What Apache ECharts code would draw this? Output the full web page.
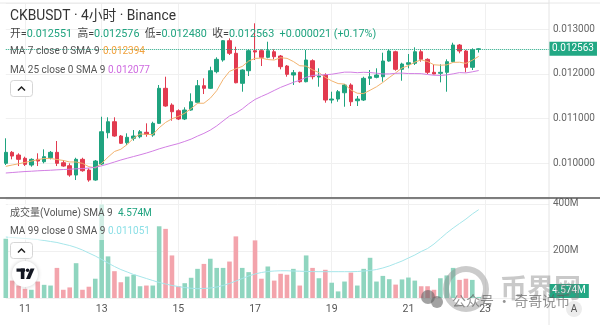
<!DOCTYPE html>
<html><head><meta charset="utf-8">
<script src="https://cdn.jsdelivr.net/npm/echarts/dist/echarts.min.js"></script>
<style>html,body{margin:0;padding:0;background:#fff}#c{width:600px;height:325px}</style>
</head><body><div id="c"></div>
<script>
// ---------- data ----------
const symbolTitle = 'CKBUSDT · 4小时 · Binance';
const startDay = 10, startHour = 12, slotHours = 4, slotCount = 86;
const dayTicks = ['11','13','15','17','19','21','23'];
const priceTicks = [0.010, 0.011, 0.012, 0.013];
const volumeTicks = ['200M','400M'];

const opens = [0.010000,0.010246,0.010186,0.010112,0.009962,0.010089,0.010036,0.010125,0.010246,0.010013,
0.009946,0.009738,0.010089,0.009850,0.009626,0.009984,0.010685,0.010931,0.010611,0.010461,
0.010560,0.010595,0.010694,0.010633,0.010895,0.011679,0.011305,0.011177,0.010992,0.011193,
0.011366,0.011737,0.011679,0.012051,0.012313,0.012745,0.012463,0.011791,0.012073,0.012521,
0.012521,0.012373,0.012498,0.012402,0.012178,0.011977,0.012037,0.011827,0.012297,0.011932,
0.011977,0.011417,0.011439,0.011580,0.011753,0.011401,0.011417,0.011903,0.011925,0.011939,
0.012290,0.012498,0.012104,0.012216,0.012239,0.012498,0.012328,0.012037,0.012015,0.012037,
0.012275,0.012648,0.012514,0.012149,0.012551];
const highs = [0.010560,0.010275,0.010224,0.010148,0.010112,0.010224,0.010313,0.010275,0.010499,0.010074,
0.010000,0.010125,0.010125,0.009888,0.010074,0.011043,0.011030,0.011030,0.010633,0.010671,
0.010745,0.010745,0.010895,0.010931,0.011753,0.011939,0.011343,0.011209,0.011254,0.011567,
0.011865,0.011903,0.012163,0.012373,0.012760,0.012798,0.012610,0.012104,0.012552,0.013134,
0.012552,0.012722,0.012552,0.012425,0.012201,0.012089,0.012051,0.012537,0.012328,0.012127,
0.012015,0.011603,0.011641,0.011775,0.011791,0.011507,0.011939,0.012089,0.012127,0.012476,
0.012552,0.012521,0.012252,0.012447,0.012597,0.012552,0.012351,0.012216,0.012216,0.012328,
0.012700,0.012671,0.012537,0.012575,0.012576];
const lows = [0.009962,0.010089,0.009939,0.009939,0.009924,0.009939,0.010000,0.010089,0.009939,0.009924,
0.009700,0.009626,0.009812,0.009588,0.009610,0.009962,0.010560,0.010595,0.010432,0.010410,
0.010506,0.010560,0.010595,0.010595,0.010880,0.011267,0.010954,0.010969,0.010969,0.011177,
0.011343,0.011551,0.011663,0.012015,0.012275,0.012425,0.011791,0.011603,0.011954,0.012313,
0.012178,0.012351,0.012328,0.012104,0.011939,0.011753,0.011804,0.011813,0.011880,0.011715,
0.011357,0.011343,0.011379,0.011267,0.011283,0.011283,0.011395,0.011753,0.011903,0.011827,
0.012275,0.012073,0.011849,0.012127,0.012201,0.012275,0.011999,0.011992,0.011813,0.011603,
0.012261,0.012463,0.012037,0.012089,0.012480];
const closes = [0.010246,0.010163,0.010089,0.009977,0.010089,0.010051,0.010148,0.010246,0.010000,0.009939,
0.009738,0.010089,0.009834,0.009626,0.010051,0.010707,0.010931,0.010611,0.010448,0.010582,
0.010611,0.010707,0.010649,0.010895,0.011679,0.011283,0.011155,0.010992,0.011193,0.011379,
0.011737,0.011679,0.012073,0.012328,0.012745,0.012463,0.011804,0.012089,0.012521,0.012492,
0.012373,0.012521,0.012387,0.012163,0.011992,0.012028,0.011827,0.012313,0.011939,0.011954,
0.011417,0.011439,0.011603,0.011753,0.011379,0.011439,0.011903,0.011939,0.011977,0.012290,
0.012514,0.012104,0.012223,0.012252,0.012498,0.012328,0.012037,0.011999,0.012037,0.012275,
0.012648,0.012514,0.012149,0.012542,0.012563];
const volumesM = [252,74,53,39,35,70,56,53,128,35,
45,148,35,48,82,398,177,114,67,91,
99,50,53,53,305,294,181,50,63,86,
124,145,167,128,128,155,262,128,110,245,
82,134,74,103,99,124,53,181,128,84,
120,65,28,70,108,53,124,171,70,94,
80,57,79,87,74,50,50,35,84,96,
128,77,82,77,4.574];
const ma7 = [0.009932,0.009962,0.009990,0.010020,0.010050,0.010080,0.010109,0.010109,0.010086,0.010064,
0.010030,0.010030,0.009999,0.009925,0.009897,0.009998,0.010139,0.010264,0.010315,0.010422,
0.010563,0.010657,0.010648,0.010643,0.010796,0.010915,0.010997,0.011051,0.011121,0.011225,
0.011345,0.011345,0.011458,0.011626,0.011876,0.012058,0.012118,0.012169,0.012289,0.012349,
0.012355,0.012323,0.012312,0.012364,0.012350,0.012279,0.012184,0.012176,0.012093,0.012031,
0.011924,0.011845,0.011785,0.011774,0.011641,0.011569,0.011562,0.011636,0.011713,0.011811,
0.011920,0.012024,0.012136,0.012186,0.012265,0.012316,0.012279,0.012206,0.012196,0.012204,
0.012260,0.012263,0.012237,0.012308,0.012394];
const ma25 = [0.009783,0.009794,0.009805,0.009816,0.009823,0.009832,0.009839,0.009845,0.009854,0.009861,
0.009868,0.009877,0.009883,0.009894,0.009912,0.009944,0.009984,0.010029,0.010074,0.010114,
0.010152,0.010190,0.010230,0.010275,0.010324,0.010366,0.010405,0.010442,0.010490,0.010542,
0.010609,0.010670,0.010744,0.010837,0.010949,0.011058,0.011126,0.011217,0.011332,0.011430,
0.011497,0.011560,0.011631,0.011700,0.011756,0.011813,0.011858,0.011924,0.011966,0.011977,
0.011983,0.011994,0.012018,0.012041,0.012041,0.012029,0.012038,0.012032,0.012018,0.012000,
0.012002,0.012014,0.012020,0.012009,0.012009,0.012007,0.011988,0.011972,0.011967,0.011979,
0.012003,0.012031,0.012024,0.012048,0.012077];
const ma99 = [0.010719,0.010713,0.010707,0.010701,0.010695,0.010689,0.010677,0.010665,0.010653,0.010634,
0.010616,0.010592,0.010562,0.010525,0.010489,0.010447,0.010404,0.010362,0.010325,0.010295,
0.010265,0.010241,0.010216,0.010192,0.010168,0.010150,0.010132,0.010119,0.010107,0.010098,
0.010093,0.010095,0.010101,0.010113,0.010132,0.010156,0.010186,0.010216,0.010247,0.010271,
0.010289,0.010301,0.010307,0.010310,0.010310,0.010307,0.010305,0.010302,0.010300,0.010299,
0.010299,0.010299,0.010299,0.010299,0.010299,0.010301,0.010307,0.010313,0.010325,0.010344,
0.010368,0.010398,0.010428,0.010465,0.010501,0.010544,0.010580,0.010634,0.010701,0.010768,
0.010828,0.010883,0.010937,0.010998,0.011051];

// ---------- build ----------
const categories = [];
for (let k = 0; k < slotCount; k++) {
  const h = startHour + k * slotHours;
  const d = startDay + Math.floor(h / 24);
  const hh = h % 24;
  categories.push(d + ' ' + String(hh).padStart(2, '0') + ':00');
}
function isTick(v) { const p = v.split(' '); return p[1] === '00:00' && dayTicks.indexOf(p[0]) >= 0; }

const UP = '#1fa37f', DOWN = '#e23a4f';
const VUP = '#8fd5bf', VDOWN = '#f3a4ac';
const FONT = 'Roboto, "Noto Sans CJK SC", sans-serif';
const n = closes.length;
const last = n - 1;
const candleData = opens.map((o, i) => [o, closes[i], lows[i], highs[i]]);
const volData = volumesM.map((v, i) => ({ value: v * 1e6, itemStyle: { color: closes[i] >= opens[i] ? VUP : VDOWN } }));
const fmt6 = v => v.toFixed(6);
const chg = closes[last] - closes[last - 1];
const chgPct = chg / closes[last - 1] * 100;
const chgTxt = (chg >= 0 ? '+' : '') + chg.toFixed(6) + ' (' + (chg >= 0 ? '+' : '') + chgPct.toFixed(2) + '%)';
const volLast = volumesM[last].toFixed(3) + 'M';

const gridL = 5.8, gridR = 51;
const xBase = {
  type: 'category', data: categories, boundaryGap: false,
  axisLine: { show: false }, axisTick: { show: false },
  splitLine: { show: true, interval: (i, v) => isTick(v), lineStyle: { color: '#f0f0f0', width: 1 } }
};
const LF = '10px ' + FONT;

const chart = echarts.init(document.getElementById('c'), null, { renderer: 'canvas' });
chart.setOption({
  animation: false,
  backgroundColor: '#ffffff',
  grid: [
    { left: gridL, right: gridR, top: 3, height: 194 },
    { left: gridL, right: gridR, top: 199, height: 99 }
  ],
  xAxis: [
    Object.assign({}, xBase, { gridIndex: 0, axisLabel: { show: false } }),
    Object.assign({}, xBase, { gridIndex: 1, axisLabel: {
      interval: (i, v) => isTick(v), formatter: v => v.split(' ')[0],
      color: '#555', fontSize: 10.5, fontFamily: FONT, margin: 6 } })
  ],
  yAxis: [
    { gridIndex: 0, position: 'right', min: 0.009246, max: 0.013589, splitNumber: 5,
      axisLine: { show: false }, axisTick: { show: false },
      axisLabel: { margin: 4, color: '#666', fontSize: 10, fontFamily: FONT, showMinLabel: false, showMaxLabel: false,
        formatter: v => priceTicks.some(t => Math.abs(t - v) < 1e-9) ? fmt6(v) : '' },
      splitLine: { lineStyle: { color: '#f0f0f0' } } },
    { gridIndex: 1, position: 'right', min: 0, max: 421e6, interval: 200e6,
      axisLine: { show: false }, axisTick: { show: false },
      axisLabel: { margin: 4, color: '#666', fontSize: 10, fontFamily: FONT, showMaxLabel: false,
        formatter: v => { const s = Math.round(v / 1e6) + 'M'; return volumeTicks.indexOf(s) >= 0 ? s : ''; } },
      splitLine: { lineStyle: { color: '#f0f0f0' } } },
    { gridIndex: 1, position: 'left', min: 0.00998, max: 0.01118, show: false, splitLine: { show: false } }
  ],
  series: [
    { type: 'candlestick', xAxisIndex: 0, yAxisIndex: 0, data: candleData, barWidth: 4,
      itemStyle: { color: UP, color0: DOWN, borderColor: UP, borderColor0: DOWN, borderWidth: 1 } },
    { type: 'line', xAxisIndex: 0, yAxisIndex: 0, data: ma7, showSymbol: false, symbol: 'none',
      lineStyle: { color: '#f2b36f', width: 1 }, z: 3,
      markLine: { silent: true, symbol: ['none', 'none'], animation: false, precision: 6,
        data: [{ yAxis: closes[last] }],
        lineStyle: { type: 'dotted', color: '#22a884', width: 1 },
        label: { show: true, position: 'end', distance: 0, formatter: fmt6(closes[last]),
          backgroundColor: '#22a884', color: '#fff', padding: [2, 3, 2, 3], fontSize: 10, fontFamily: FONT } } },
    { type: 'line', xAxisIndex: 0, yAxisIndex: 0, data: ma25, showSymbol: false, symbol: 'none',
      lineStyle: { color: '#d27fe3', width: 1 }, z: 3 },
    { type: 'bar', xAxisIndex: 1, yAxisIndex: 1, data: volData, barWidth: 4.6,
      markLine: { silent: true, symbol: ['none', 'none'], animation: false, precision: 3,
        data: [{ yAxis: volumesM[last] * 1e6 }],
        lineStyle: { color: 'rgba(0,0,0,0)', width: 1 },
        label: { show: true, position: 'end', distance: 0, formatter: volLast,
          backgroundColor: '#22a884', color: '#fff', padding: [2, 3, 2, 3], fontSize: 10, fontFamily: FONT, offset: [0, -6] } } },
    { type: 'line', xAxisIndex: 1, yAxisIndex: 2, data: ma99, showSymbol: false, symbol: 'none',
      lineStyle: { color: '#a6e6ea', width: 1 }, z: 3 }
  ],
  graphic: [
    { type: 'line', z: 50, shape: { x1: 0, y1: 3, x2: 600, y2: 3 }, style: { stroke: '#e8e8e8', lineWidth: 1 } },
    { type: 'line', z: 50, shape: { x1: 549, y1: 0, x2: 549, y2: 325 }, style: { stroke: '#e4e4e4', lineWidth: 1 } },
    { type: 'line', z: 50, shape: { x1: 0, y1: 198, x2: 600, y2: 198 }, style: { stroke: '#555', lineWidth: 1.5 } },
    // price legend
    { type: 'text', z: 60, style: { x: 10, y: 16.5, text: symbolTitle, fill: '#333', font: '13.8px ' + FONT, verticalAlign: 'middle' } },
    { type: 'text', z: 60, style: { x: 10, y: 34.3, verticalAlign: 'middle', font: '10.8px ' + FONT,
      text: '{l|开=}{v|' + fmt6(opens[last]) + '}  {l|高=}{v|' + fmt6(highs[last]) + '}  {l|低=}{v|' + fmt6(lows[last]) + '}  {l|收=}{v|' + fmt6(closes[last]) + '}  {v|' + chgTxt + '}',
      rich: { l: { fill: '#444', font: '10.8px ' + FONT }, v: { fill: '#1fa37f', font: '10.8px ' + FONT } } } },
    { type: 'text', z: 60, style: { x: 10, y: 51, text: 'MA 7 close 0 SMA 9', fill: '#555', font: LF, verticalAlign: 'middle' } },
    { type: 'text', z: 60, style: { x: 103, y: 51, text: fmt6(ma7[last]), fill: '#f0a23e', font: LF, verticalAlign: 'middle' } },
    { type: 'text', z: 60, style: { x: 10, y: 70, text: 'MA 25 close 0 SMA 9', fill: '#555', font: LF, verticalAlign: 'middle' } },
    { type: 'text', z: 60, style: { x: 108, y: 70, text: fmt6(ma25[last]), fill: '#cf6ae0', font: LF, verticalAlign: 'middle' } },
    { type: 'rect', z: 60, shape: { x: 10.5, y: 80.5, width: 22, height: 16, r: 3 }, style: { fill: '#fff', stroke: '#d6d6d6', lineWidth: 1 } },
    { type: 'polyline', z: 61, shape: { points: [[18, 90.5], [21.5, 87], [25, 90.5]] }, style: { stroke: '#222', lineWidth: 1.5, fill: null } },
    // volume legend
    { type: 'rect', z: 55, shape: { x: 8, y: 204, width: 98, height: 36 }, style: { fill: 'rgba(255,255,255,0.6)' } },
    { type: 'text', z: 60, style: { x: 10, y: 213.3, text: '成交量(Volume) SMA 9', fill: '#555', font: LF, verticalAlign: 'middle' } },
    { type: 'text', z: 60, style: { x: 118, y: 213.3, text: volLast, fill: '#1fa37f', font: LF, verticalAlign: 'middle' } },
    { type: 'text', z: 60, style: { x: 10, y: 231.7, text: 'MA 99 close 0 SMA 9', fill: '#555', font: LF, verticalAlign: 'middle' } },
    { type: 'text', z: 60, style: { x: 108, y: 231.7, text: fmt6(ma99[last]), fill: '#8adfe6', font: LF, verticalAlign: 'middle' } },
    { type: 'rect', z: 60, shape: { x: 10.5, y: 242.5, width: 22, height: 16, r: 3 }, style: { fill: '#fff', stroke: '#d6d6d6', lineWidth: 1 } },
    { type: 'polyline', z: 61, shape: { points: [[18, 252.5], [21.5, 249], [25, 252.5]] }, style: { stroke: '#222', lineWidth: 1.5, fill: null } },
    // TradingView logo
    { type: 'circle', z: 60, shape: { cx: 25, cy: 274, r: 13 }, style: { fill: '#fff', shadowBlur: 4, shadowColor: 'rgba(0,0,0,0.2)' } },
    { type: 'rect', z: 61, shape: { x: 16.5, y: 268.5, width: 8.5, height: 3.2 }, style: { fill: '#131722' } },
    { type: 'rect', z: 61, shape: { x: 20.8, y: 268.5, width: 3.6, height: 10.5 }, style: { fill: '#131722' } },
    { type: 'circle', z: 61, shape: { cx: 27.6, cy: 270.2, r: 1.8 }, style: { fill: '#131722' } },
    { type: 'polygon', z: 61, shape: { points: [[30.5, 268.5], [34.5, 268.5], [30, 279], [26, 279]] }, style: { fill: '#131722' } },
    // bottom right "A"
    { type: 'circle', z: 60, shape: { cx: 574, cy: 309, r: 8 }, style: { fill: '#ececec' } },
    { type: 'text', z: 61, style: { x: 574, y: 309, text: 'A', fill: '#555', font: '10px ' + FONT, align: 'center', verticalAlign: 'middle' } },
    // watermark
    { type: 'circle', z: 70, shape: { cx: 466, cy: 289, r: 20 }, style: { fill: null, stroke: 'rgba(140,140,140,0.45)', lineWidth: 6 } },
    { type: 'text', z: 70, style: { x: 500, y: 288, text: '币界网', fill: 'rgba(120,120,120,0.4)', font: 'bold 27px "Noto Sans CJK SC", sans-serif', verticalAlign: 'middle' } },
    { type: 'circle', z: 70, shape: { cx: 428, cy: 297, r: 7 }, style: { fill: 'rgba(100,100,100,0.6)' } },
    { type: 'circle', z: 70, shape: { cx: 437, cy: 302, r: 6 }, style: { fill: 'rgba(100,100,100,0.6)' } },
    { type: 'text', z: 70, style: { x: 452, y: 301, text: '公众号 · 奇哥说币', fill: 'rgba(90,90,90,0.65)', font: '14px "Noto Sans CJK SC", sans-serif', verticalAlign: 'middle' } }
  ]
});
</script></body></html>
